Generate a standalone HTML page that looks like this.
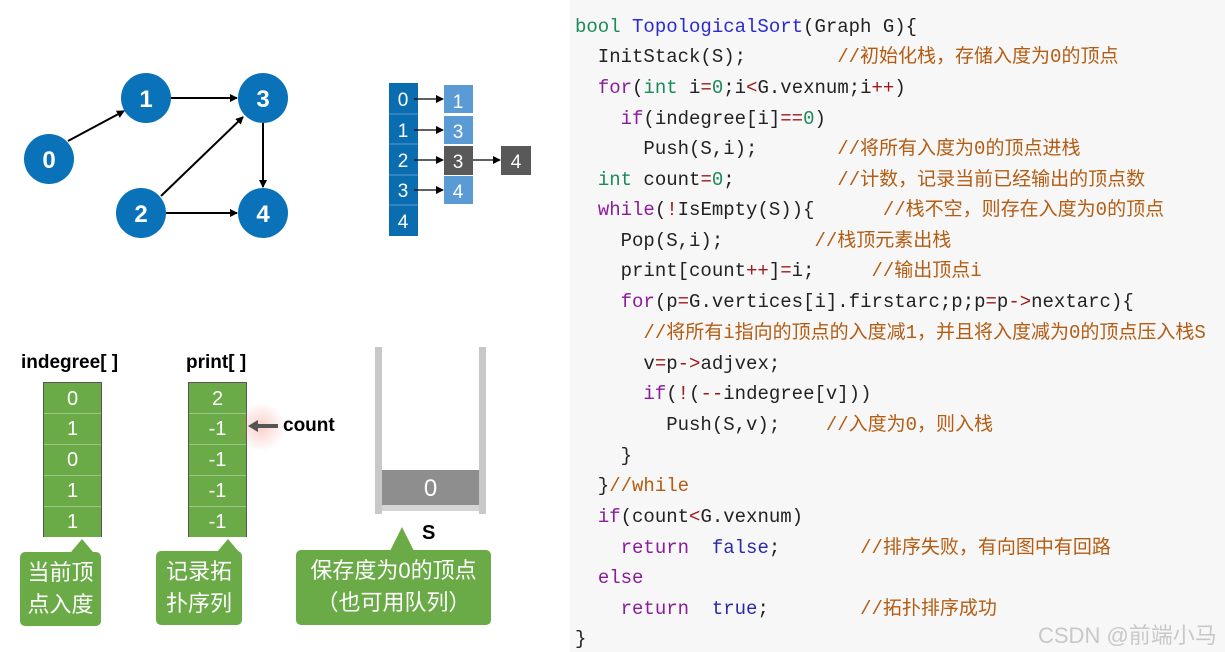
<!DOCTYPE html>
<html><head><meta charset="utf-8"><style>
body{margin:0;width:1225px;height:652px;background:#fff;position:relative;overflow:hidden;font-family:"Liberation Sans","Noto Sans CJK SC",sans-serif}
.abs{position:absolute}
#code{position:absolute;left:570px;top:0;width:655px;height:652px;background:#f7f7f7}
.ln{position:absolute;left:5px;white-space:pre;font-family:"Liberation Mono","Noto Sans CJK SC",monospace;font-size:19px;color:#222;line-height:22px}
.k{color:#8b1c9c}.t{color:#1b8a5a}.f{color:#2a2ad0}.n{color:#1b8a5a}.o{color:#a01818}.c{color:#b35c12}.b{color:#2a2aa8}
.cell{position:absolute;color:#fff;text-align:center;font-size:20px}
.g{background:#6aab47;border-top:1px solid #9cc58a;box-sizing:border-box}
.call{position:absolute;background:#6aab47;border-radius:5px;color:#fff;font-size:22px;text-align:center;line-height:32px;font-family:"Liberation Sans","Noto Sans CJK SC",sans-serif}
.tri{position:absolute;width:0;height:0;border-left:11px solid transparent;border-right:11px solid transparent;border-bottom:13px solid #6aab47}
.lbl{position:absolute;font-weight:bold;font-size:19px;color:#000}
</style></head><body>
<svg class="abs" style="left:0;top:0" width="560" height="260">
<defs><marker id="a" markerWidth="8" markerHeight="8" refX="7" refY="4" orient="auto" markerUnits="userSpaceOnUse"><path d="M0,0 L8,4 L0,8z" fill="#000"/></marker></defs>
<g stroke="#000" stroke-width="2" marker-end="url(#a)">
<line x1="68" y1="141" x2="124" y2="111"/>
<line x1="171" y1="98" x2="237" y2="98"/>
<line x1="161" y1="196" x2="243" y2="117"/>
<line x1="166" y1="213" x2="237" y2="213"/>
<line x1="263" y1="123" x2="263" y2="187"/>
</g>
<g fill="#0a72b8"><circle cx="49" cy="159" r="25"/><circle cx="146" cy="98" r="25"/><circle cx="263" cy="98" r="25"/><circle cx="141" cy="213" r="25"/><circle cx="263" cy="213" r="25"/></g>
<g fill="#fff" font-size="24" font-weight="bold" text-anchor="middle" font-family="Liberation Sans"><text x="49" y="168">0</text><text x="146" y="107">1</text><text x="263" y="107">3</text><text x="141" y="222">2</text><text x="263" y="222">4</text></g>
<rect x="389" y="83" width="29" height="153" fill="#0a6db0"/>
<g stroke="#5a9ad0" stroke-width="1"><line x1="389" y1="114" x2="418" y2="114"/><line x1="389" y1="144" x2="418" y2="144"/><line x1="389" y1="175" x2="418" y2="175"/><line x1="389" y1="205" x2="418" y2="205"/></g>
<rect x="444" y="85" width="29" height="28" fill="#5b9bd5"/><rect x="444" y="116" width="29" height="28" fill="#5b9bd5"/>
<rect x="444" y="146" width="29" height="29" fill="#595959"/><rect x="501" y="146" width="30" height="29" fill="#595959"/>
<rect x="444" y="176" width="29" height="28" fill="#5b9bd5"/>
<g stroke="#000" stroke-width="1.3" marker-end="url(#a)"><line x1="414" y1="99" x2="443" y2="99"/><line x1="414" y1="130" x2="443" y2="130"/><line x1="414" y1="160" x2="443" y2="160"/><line x1="473" y1="160" x2="500" y2="160"/><line x1="414" y1="190" x2="443" y2="190"/></g>
<g fill="#fff" font-size="19" text-anchor="middle" font-family="Liberation Sans"><text x="403" y="106">0</text><text x="403" y="137">1</text><text x="403" y="167">2</text><text x="403" y="197">3</text><text x="403" y="228">4</text>
<text x="458" y="108">1</text><text x="458" y="138">3</text><text x="458" y="168">3</text><text x="516" y="168">4</text><text x="458" y="198">4</text></g>
</svg>

<div class="lbl" style="left:21px;top:352px">indegree[ ]</div>
<div class="lbl" style="left:186px;top:352px">print[ ]</div>
<div class="abs" style="left:43px;top:382px;width:59px;height:155px;border:1px solid #555;border-bottom:none;box-sizing:border-box;background:#6aab47"></div>
<div class="abs" style="left:188px;top:382px;width:59px;height:155px;border:1px solid #555;border-bottom:none;box-sizing:border-box;background:#6aab47"></div>
<div class="cell" style="left:44px;top:384px;width:57px;line-height:31px">0</div>
<div class="cell g" style="left:44px;top:413px;width:57px;height:31px;line-height:31px">1</div>
<div class="cell g" style="left:44px;top:444px;width:57px;height:31px;line-height:31px">0</div>
<div class="cell g" style="left:44px;top:475px;width:57px;height:31px;line-height:31px">1</div>
<div class="cell g" style="left:44px;top:506px;width:57px;height:31px;line-height:31px">1</div>
<div class="cell" style="left:189px;top:384px;width:57px;line-height:31px">2</div>
<div class="cell g" style="left:189px;top:413px;width:57px;height:31px;line-height:31px">-1</div>
<div class="cell g" style="left:189px;top:444px;width:57px;height:31px;line-height:31px">-1</div>
<div class="cell g" style="left:189px;top:475px;width:57px;height:31px;line-height:31px">-1</div>
<div class="cell g" style="left:189px;top:506px;width:57px;height:31px;line-height:31px">-1</div>
<div class="abs" style="left:236px;top:402px;width:50px;height:50px;border-radius:50%;background:radial-gradient(circle,rgba(240,120,110,.35),rgba(255,255,255,0) 70%)"></div>
<svg class="abs" style="left:248px;top:418px" width="35" height="16"><path d="M0,8 L10,2 L10,6 L30,6 L30,10 L10,10 L10,14z" fill="#555"/></svg>
<div class="lbl" style="left:283px;top:415px">count</div>

<div class="abs" style="left:375px;top:347px;width:7px;height:167px;background:#c8c8c8"></div>
<div class="abs" style="left:479px;top:347px;width:7px;height:167px;background:#c8c8c8"></div>
<div class="abs" style="left:382px;top:505px;width:97px;height:6px;background:#d5d5d5"></div>
<div class="abs" style="left:382px;top:470px;width:97px;height:35px;background:#8e8e8e;color:#fff;font-size:24px;text-align:center;line-height:38px">0</div>
<div class="lbl" style="left:422px;top:522px;font-size:20px">S</div>

<div class="tri" style="left:71px;top:539px"></div>
<div class="call" style="left:20px;top:552px;width:81px;height:74px;padding-top:5px;box-sizing:border-box">当前顶<br>点入度</div>
<div class="tri" style="left:217px;top:539px"></div>
<div class="call" style="left:156px;top:551px;width:86px;height:74px;padding-top:5px;box-sizing:border-box">记录拓<br>扑序列</div>
<div class="tri" style="left:390px;top:527px;border-left-width:12px;border-right-width:12px;border-bottom-width:24px"></div>
<div class="call" style="left:296px;top:550px;width:195px;height:75px;padding-top:5px;box-sizing:border-box">保存度为0的顶点<br>（也可用队列）</div>

<div id="code">
<div class="ln" style="top:16px"><span class="t">bool</span> <span class="f">TopologicalSort</span>(Graph G){</div>
<div class="ln" style="top:46px">  InitStack(S);        <span class="c">//初始化栈，存储入度为0的顶点</span></div>
<div class="ln" style="top:77px">  <span class="k">for</span>(<span class="t">int</span> i<span class="o">=</span><span class="n">0</span>;i<span class="o">&lt;</span>G.vexnum;i<span class="o">++</span>)</div>
<div class="ln" style="top:108px">    <span class="k">if</span>(indegree[i]<span class="o">==</span><span class="n">0</span>)</div>
<div class="ln" style="top:138px">      Push(S,i);       <span class="c">//将所有入度为0的顶点进栈</span></div>
<div class="ln" style="top:169px">  <span class="t">int</span> count<span class="o">=</span><span class="n">0</span>;         <span class="c">//计数，记录当前已经输出的顶点数</span></div>
<div class="ln" style="top:199px">  <span class="k">while</span>(<span class="o">!</span>IsEmpty(S)){      <span class="c">//栈不空，则存在入度为0的顶点</span></div>
<div class="ln" style="top:230px">    Pop(S,i);        <span class="c">//栈顶元素出栈</span></div>
<div class="ln" style="top:260px">    print[count<span class="o">++</span>]<span class="o">=</span>i;     <span class="c">//输出顶点i</span></div>
<div class="ln" style="top:291px">    <span class="k">for</span>(p<span class="o">=</span>G.vertices[i].firstarc;p;p<span class="o">=</span>p<span class="o">-&gt;</span>nextarc){</div>
<div class="ln" style="top:322px">      <span class="c">//将所有i指向的顶点的入度减1，并且将入度减为0的顶点压入栈S</span></div>
<div class="ln" style="top:353px">      v<span class="o">=</span>p<span class="o">-&gt;</span>adjvex;</div>
<div class="ln" style="top:383px">      <span class="k">if</span>(<span class="o">!</span>(<span class="o">--</span>indegree[v]))</div>
<div class="ln" style="top:414px">        Push(S,v);    <span class="c">//入度为0，则入栈</span></div>
<div class="ln" style="top:445px">    }</div>
<div class="ln" style="top:475px">  }<span class="c">//while</span></div>
<div class="ln" style="top:506px">  <span class="k">if</span>(count<span class="o">&lt;</span>G.vexnum)</div>
<div class="ln" style="top:537px">    <span class="k">return</span>  <span class="b">false</span>;       <span class="c">//排序失败，有向图中有回路</span></div>
<div class="ln" style="top:567px">  <span class="k">else</span></div>
<div class="ln" style="top:598px">    <span class="k">return</span>  <span class="b">true</span>;        <span class="c">//拓扑排序成功</span></div>
<div class="ln" style="top:628px">}</div>
<div class="abs" style="left:468px;top:618px;font-size:22px;color:#c8c8c8">CSDN @前端小马</div>
</div>
</body></html>
